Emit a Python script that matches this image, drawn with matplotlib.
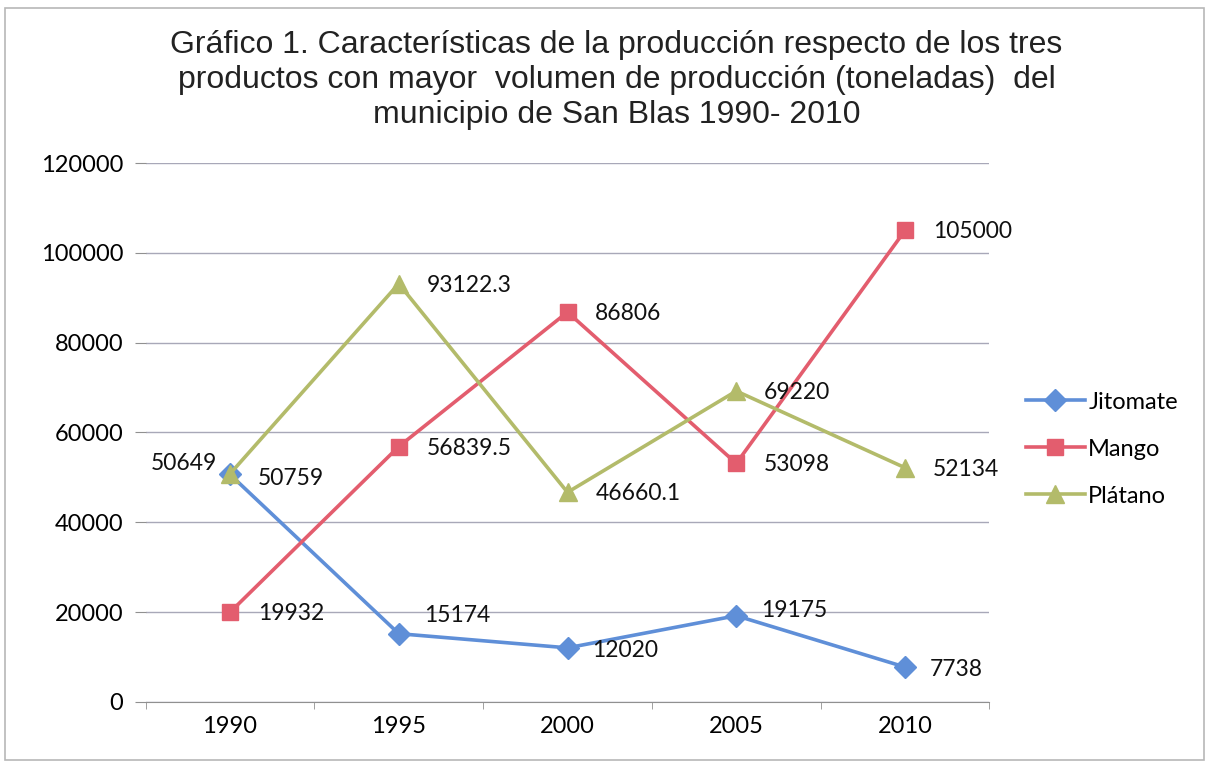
import matplotlib
matplotlib.use("Agg")
import matplotlib.pyplot as plt
from matplotlib.patches import Rectangle

years = ["1990", "1995", "2000", "2005", "2010"]
jitomate = [50649, 15174, 12020, 19175, 7738]
mango = [19932, 56839.5, 86806, 53098, 105000]
platano = [50759, 93122.3, 46660.1, 69220, 52134]
jitomate_labels = ["50649", "15174", "12020", "19175", "7738"]
mango_labels = ["19932", "56839.5", "86806", "53098", "105000"]
platano_labels = ["50759", "93122.3", "46660.1", "69220", "52134"]
yticks = [0, 20000, 40000, 60000, 80000, 100000, 120000]
title = ("Gráfico 1. Características de la producción respecto de los tres\n"
         "productos con mayor  volumen de producción (toneladas)  del\n"
         "municipio de San Blas 1990- 2010")

# label offsets in points (dx, dy)
jit_off = [(-57, 8), (18, 13), (18, -2), (18, 4), (18, -2)]
man_off = [(20, -1), (20, -1), (20, -1), (20, -1), (20, -1)]
pla_off = [(20, -3), (20, -1), (20, -1), (20, -1), (20, -1)]

FONT = "Lato"
c_j, c_m, c_p = "#5f8fd8", "#e35d6e", "#b3bb6a"

fig = plt.figure(figsize=(12.09, 7.62), dpi=100)
fig.patches.append(Rectangle((0.004, 0.003), 0.992, 0.987, transform=fig.transFigure,
                             fill=False, edgecolor="#b8b8b8", linewidth=1.2))
ax = fig.add_axes([0.1204, 0.079, 0.698, 0.707])
x = list(range(len(years)))

series = [
    ("Jitomate", jitomate, jitomate_labels, jit_off, c_j, "D", 11),
    ("Mango", mango, mango_labels, man_off, c_m, "s", 12),
    ("Plátano", platano, platano_labels, pla_off, c_p, "^", 13),
]
for name, vals, labs, offs, col, mk, ms in series:
    ax.plot(x, vals, color=col, linewidth=2.6, marker=mk, markersize=ms,
            markerfacecolor=col, markeredgecolor=col, label=name, zorder=3)
    for xi, v, lab, (dx, dy) in zip(x, vals, labs, offs):
        ax.annotate(lab, (xi, v), xytext=(dx, dy), textcoords="offset points",
                    ha="left", va="center", fontsize=16.5, family=FONT, color="#111111")

ax.set_xlim(-0.5, 4.5)
ax.set_ylim(0, 120000)
ax.set_yticks(yticks)
ax.set_yticklabels([str(t) for t in yticks], fontsize=17, family=FONT)
ax.set_xticks(x)
ax.set_xticklabels(years, fontsize=17, family=FONT)
ax.set_xticks([i + 0.5 for i in range(-1, 5)], minor=True)
ax.tick_params(axis="x", which="major", length=0, pad=10)
ax.tick_params(axis="x", which="minor", length=5, color="#909090")
ax.tick_params(axis="y", length=8, color="#909090", pad=8)
ax.grid(axis="y", color="#a8a8b8", linewidth=1.0)
ax.set_axisbelow(True)
for s in ["top", "right", "left"]:
    ax.spines[s].set_visible(False)
ax.spines["bottom"].set_color("#909090")

leg = ax.legend(loc="center left", bbox_to_anchor=(1.043, 0.469), frameon=False,
                prop={"family": FONT, "size": 17}, handlelength=2.5,
                labelspacing=1.1, handletextpad=0.15, borderaxespad=0, borderpad=0)

fig.text(0.51, 0.895, title, ha="center", va="center", fontsize=23,
         family="Liberation Sans", color="#222222", linespacing=1.22)

fig.savefig("out.png", dpi=100)
